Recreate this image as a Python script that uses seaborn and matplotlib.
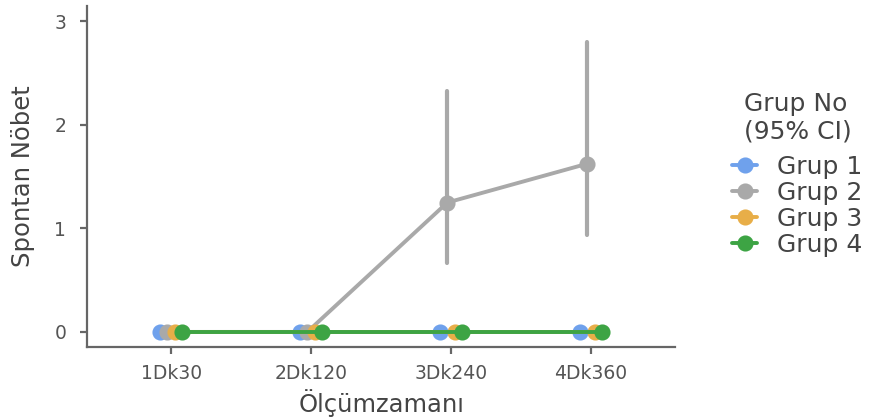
import numpy as np
import pandas as pd
import matplotlib
matplotlib.use("Agg")
import matplotlib.pyplot as plt
import seaborn as sns

# Measurement times and groups
times = ["1Dk30", "2Dk120", "3Dk240", "4Dk360"]
groups = ["Grup 1", "Grup 2", "Grup 3", "Grup 4"]

# Mean spontaneous seizure counts per group at each time
mean_g1 = [0, 0, 0, 0]
mean_g2 = [0, 0, 1.25, 1.625]
mean_g3 = [0, 0, 0, 0]
mean_g4 = [0, 0, 0, 0]

# 95% confidence interval bounds
lo_g2 = [0, 0, 0.67, 0.94]
hi_g2 = [0, 0, 2.33, 2.80]
lo_zero = [0, 0, 0, 0]
hi_zero = [0, 0, 0, 0]

palette = ["#6FA1EC", "#A9A9A9", "#E8AE48", "#3DA444"]

means = [mean_g1, mean_g2, mean_g3, mean_g4]
lows = [lo_zero, lo_g2, lo_zero, lo_zero]
highs = [hi_zero, hi_g2, hi_zero, hi_zero]

# Long table: lower bound, mean and upper bound per cell; the median gives the
# mean and the full percentile interval gives the CI bounds.
rows = []
for g, m, lo, hi in zip(groups, means, lows, highs):
    for t, mv, lv, hv in zip(times, m, lo, hi):
        for v in (lv, mv, hv):
            rows.append({"Ölçümzamanı": t, "Spontan Nöbet": v, "Grup No": g})
df = pd.DataFrame(rows)

sns.set_theme(style="ticks")
plt.rcParams["font.family"] = ["DejaVu Sans"]

fig = plt.figure(figsize=(8.71, 4.2), dpi=100)
ax = fig.add_axes([0.1, 0.174, 0.675, 0.812])

sns.pointplot(
    data=df, x="Ölçümzamanı", y="Spontan Nöbet", hue="Grup No",
    order=times, hue_order=groups, palette=palette,
    estimator="median", errorbar=("pi", 100),
    dodge=0.16, markersize=9.5, linewidth=2.8,
    err_kws={"linewidth": 3}, ax=ax,
)

ax.set_xlim(-0.6, 3.6)
ax.set_ylim(-0.145, 3.15)
ax.set_yticks([0, 1, 2, 3])

for side in ("top", "right"):
    ax.spines[side].set_visible(False)
for side in ("left", "bottom"):
    ax.spines[side].set_color("#666666")
    ax.spines[side].set_linewidth(1.6)
ax.tick_params(axis="both", colors="#666666", width=1.6, length=5,
               labelsize=13.5, labelcolor="#555555")
ax.tick_params(axis="y", pad=10)
ax.tick_params(axis="x", pad=7)

ax.set_xlabel("Ölçümzamanı", fontsize=17.5, color="#444444", labelpad=5)
ax.set_ylabel("Spontan Nöbet", fontsize=17.5, color="#444444", labelpad=14)

sns.move_legend(
    ax, "upper left", bbox_to_anchor=(0.815, 0.835),
    bbox_transform=fig.transFigure, frameon=False,
    title="Grup No\n(95% CI)", fontsize=18, title_fontsize=18,
    handlelength=1.0, handletextpad=0.8, labelspacing=0.08,
)
leg = ax.get_legend()
leg._legend_box.sep = 8
for txt in leg.get_texts():
    txt.set_color("#444444")
leg.get_title().set_color("#444444")

fig.savefig("out.png", dpi=100)
